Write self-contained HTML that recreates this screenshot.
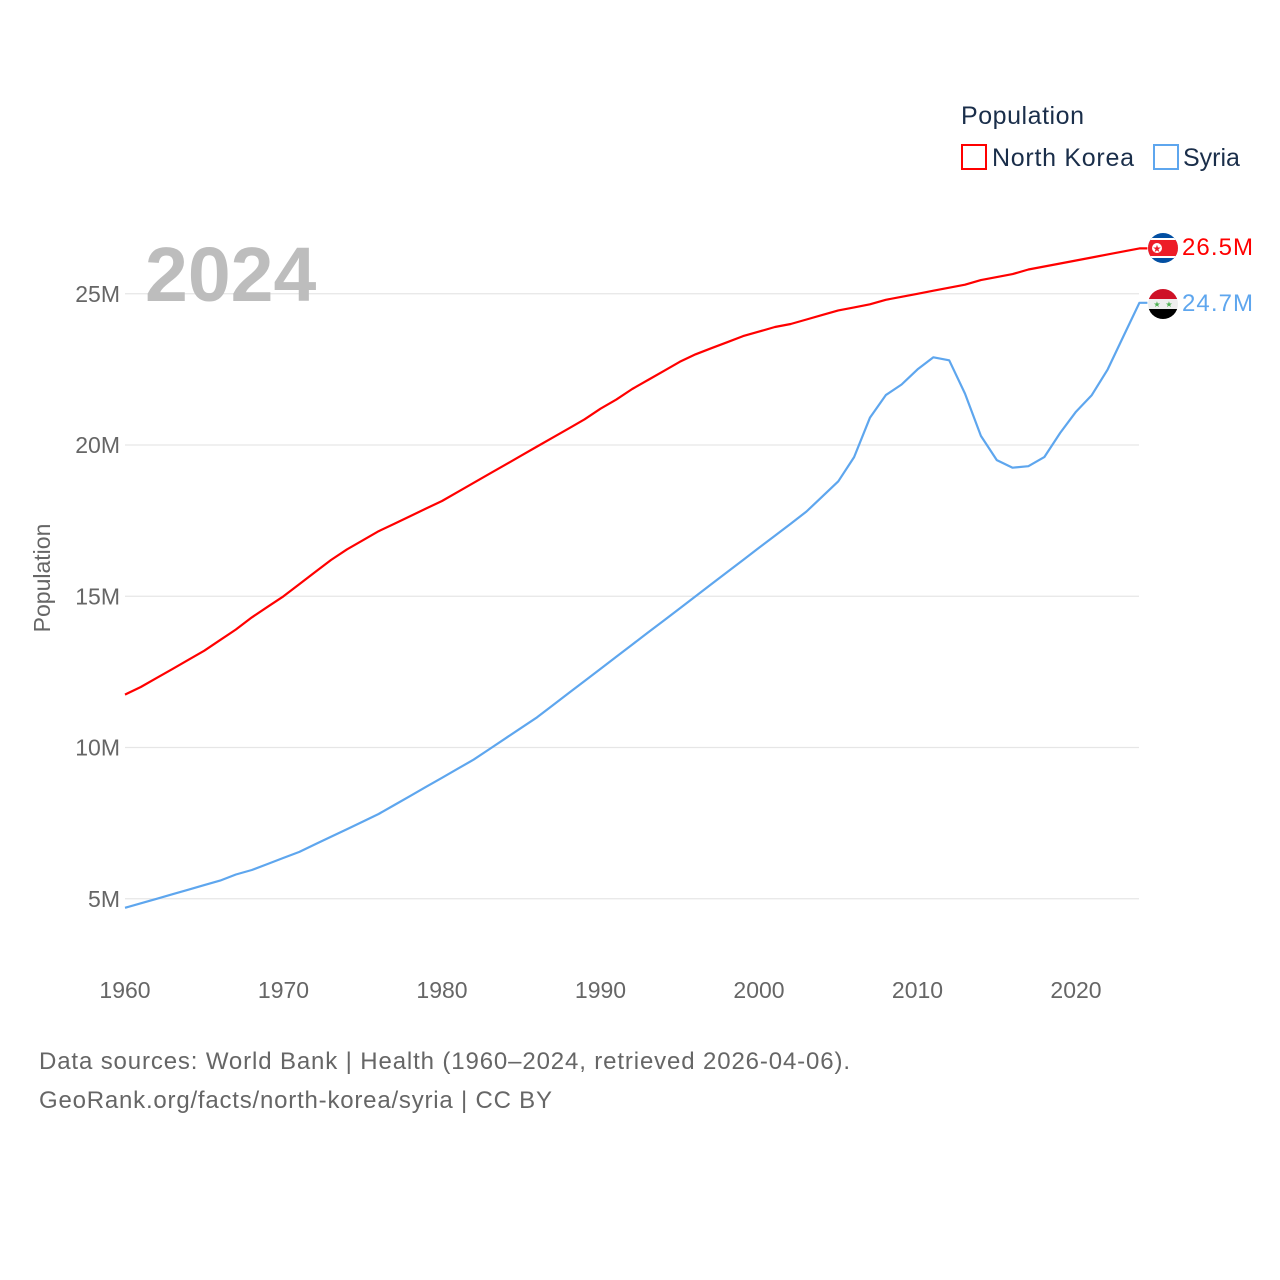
<!DOCTYPE html>
<html><head><meta charset="utf-8"><style>
html,body{margin:0;padding:0;background:#fff;}
svg{display:block;font-family:"Liberation Sans",sans-serif;}
</style></head><body>
<svg id="chart" width="1280" height="1280" viewBox="0 0 1280 1280">
<g id="grid"></g>
<g id="yticks"></g>
<g id="xticks"></g>
<text x="145" y="301" font-size="77" font-weight="bold" fill="#bdbdbd">2024</text>
<text transform="translate(50,578) rotate(-90)" text-anchor="middle" font-size="23" fill="#666">Population</text>
<g id="series"></g>
<g>
<text x="961" y="124" font-size="25" fill="#1a2e4a" textLength="123">Population</text>
<rect x="962" y="145" width="24" height="24" fill="none" stroke="#ff0000" stroke-width="2"/>
<text x="992" y="166" font-size="25" fill="#1a2e4a" textLength="142">North Korea</text>
<rect x="1154" y="145" width="24" height="24" fill="none" stroke="#5ea6ee" stroke-width="2"/>
<text x="1183" y="166" font-size="25" fill="#1a2e4a">Syria</text>
</g>
<defs>
<clipPath id="c1"><circle cx="1163" cy="248" r="15"/></clipPath>
<clipPath id="c2"><circle cx="1163" cy="304" r="15"/></clipPath>
</defs>
<g clip-path="url(#c1)">
<rect x="1148" y="233" width="30" height="30" fill="#024fa2"/>
<rect x="1148" y="238" width="30" height="20" fill="#fff"/>
<rect x="1148" y="240" width="30" height="16" fill="#ed1c27"/>
<circle cx="1157" cy="248" r="5" fill="#fff"/>
<text x="1157" y="252" font-size="10" fill="#ed1c27" text-anchor="middle">★</text>
</g>
<g clip-path="url(#c2)">
<rect x="1148" y="289" width="30" height="10" fill="#ce1126"/>
<rect x="1148" y="299" width="30" height="10" fill="#eee"/>
<rect x="1148" y="309" width="30" height="10" fill="#000"/>
<text x="1157" y="307" font-size="8" fill="#4caf50" text-anchor="middle">★</text>
<text x="1169" y="307" font-size="8" fill="#4caf50" text-anchor="middle">★</text>
</g>
<text x="1182" y="255" font-size="24" fill="#ff0000" textLength="71">26.5M</text>
<text x="1182" y="311" font-size="24" fill="#5ea6ee" textLength="71">24.7M</text>
<text x="39" y="1069" font-size="24" fill="#666" textLength="811">Data sources: World Bank | Health (1960–2024, retrieved 2026-04-06).</text>
<text x="39" y="1108" font-size="24" fill="#666" textLength="513">GeoRank.org/facts/north-korea/syria | CC BY</text>
</svg>
<script>
const years = [];
for (let y = 1960; y <= 2024; y++) years.push(y);
const northKorea = [11.75,12.0,12.3,12.6,12.9,13.2,13.55,13.9,14.3,14.65,15.0,15.4,15.8,16.2,16.55,16.85,17.15,17.4,17.65,17.9,18.15,18.45,18.75,19.05,19.35,19.65,19.95,20.25,20.55,20.85,21.2,21.5,21.85,22.15,22.45,22.75,23.0,23.2,23.4,23.6,23.75,23.9,24.0,24.15,24.3,24.45,24.55,24.65,24.8,24.9,25.0,25.1,25.2,25.3,25.45,25.55,25.65,25.8,25.9,26.0,26.1,26.2,26.3,26.4,26.5];
const syria = [4.7,4.85,5.0,5.15,5.3,5.45,5.6,5.8,5.95,6.15,6.35,6.55,6.8,7.05,7.3,7.55,7.8,8.1,8.4,8.7,9.0,9.3,9.6,9.95,10.3,10.65,11.0,11.4,11.8,12.2,12.6,13.0,13.4,13.8,14.2,14.6,15.0,15.4,15.8,16.2,16.6,17.0,17.4,17.8,18.3,18.8,19.6,20.9,21.65,22.0,22.5,22.9,22.8,21.7,20.3,19.5,19.25,19.3,19.6,20.4,21.1,21.65,22.5,23.6,24.7];
const yTicks = [5,10,15,20,25];
const yTickLabels = ["5M","10M","15M","20M","25M"];
const xTicks = [1960,1970,1980,1990,2000,2010,2020];
const ns = "http://www.w3.org/2000/svg";
const xS = v => 125 + (v - 1960) * (951/60);
const yS = v => 1050 - v * 30.25;
const grid = document.getElementById('grid'), yt = document.getElementById('yticks'), xt = document.getElementById('xticks'), ser = document.getElementById('series');
yTicks.forEach((t,i) => {
  const l = document.createElementNS(ns,'line');
  l.setAttribute('x1',125); l.setAttribute('x2',1139); l.setAttribute('y1',yS(t)); l.setAttribute('y2',yS(t));
  l.setAttribute('stroke','#e6e6e6'); l.setAttribute('stroke-width','1.2');
  
  
  grid.appendChild(l);
  const tx = document.createElementNS(ns,'text');
  tx.setAttribute('x',120); tx.setAttribute('y',yS(t)+8); tx.setAttribute('text-anchor','end');
  tx.setAttribute('font-size','23'); tx.setAttribute('fill','#666');
  tx.textContent = yTickLabels[i];
  
  
  yt.appendChild(tx);
});
xTicks.forEach(t => {
  const tx = document.createElementNS(ns,'text');
  tx.setAttribute('x',xS(t)); tx.setAttribute('y',998); tx.setAttribute('text-anchor','middle');
  tx.setAttribute('font-size','23'); tx.setAttribute('fill','#666');
  tx.textContent = t;
  
  
  xt.appendChild(tx);
});
function drawLine(vals, color, name) {
  let d = vals.map((v,i) => (i?'L':'M') + xS(years[i]).toFixed(1) + ',' + yS(v).toFixed(1)).join(' ');
  const last = vals[vals.length-1];
  d += ' L' + (xS(years[years.length-1]) + 8).toFixed(1) + ',' + yS(last).toFixed(1);
  const p = document.createElementNS(ns,'path');
  p.setAttribute('d', d); p.setAttribute('fill','none'); p.setAttribute('stroke',color); p.setAttribute('stroke-width','2.2');
  p.setAttribute('stroke-linejoin','round');
  
  
  ser.appendChild(p);
}
drawLine(northKorea, '#ff0000', 'line-north-korea');
drawLine(syria, '#5ea6ee', 'line-syria');
</script>
</body></html>
